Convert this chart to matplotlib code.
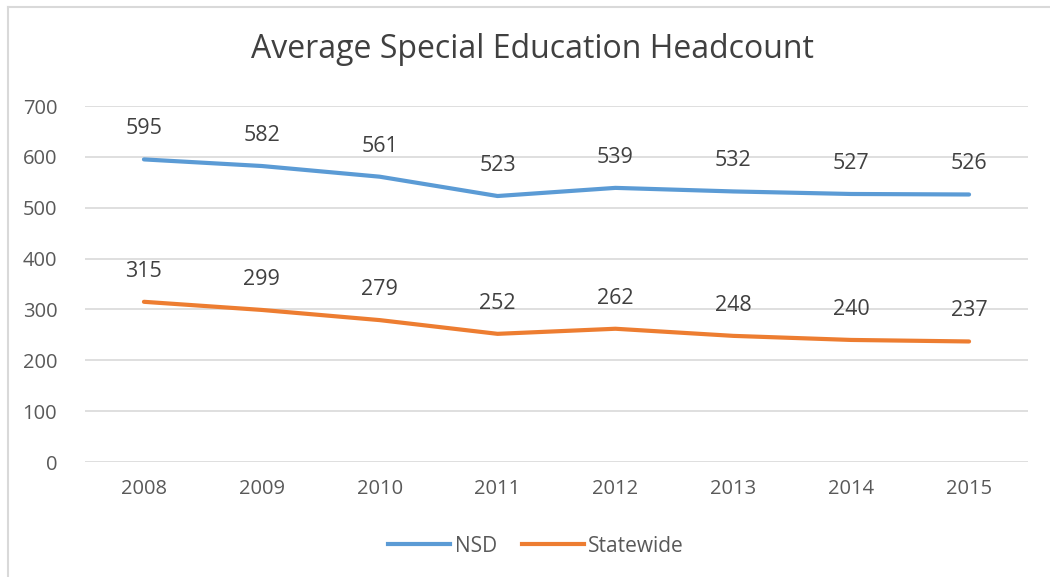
import matplotlib
matplotlib.use("Agg")
import matplotlib.pyplot as plt
from matplotlib.lines import Line2D

years = ["2008", "2009", "2010", "2011", "2012", "2013", "2014", "2015"]
nsd = [595, 582, 561, 523, 539, 532, 527, 526]
statewide = [315, 299, 279, 252, 262, 248, 240, 237]
yticks = [0, 100, 200, 300, 400, 500, 600, 700]

plt.rcParams['font.family'] = ['Open Sans', 'DejaVu Sans']

fig = plt.figure(figsize=(10.5, 5.77), dpi=100)
ax = fig.add_axes([85/1050, 1-462/577, (1028-85)/1050, (462-106)/577])

x = list(range(len(years)))
blue = '#5B9BD5'
orange = '#ED7D31'
ax.plot(x, nsd, color=blue, lw=3, solid_capstyle='round', label='NSD', zorder=3)
ax.plot(x, statewide, color=orange, lw=3, solid_capstyle='round', label='Statewide', zorder=3)

for xi, v in zip(x, nsd):
    ax.annotate(str(v), (xi, v), xytext=(0, 22), textcoords='offset points',
                ha='center', va='center', fontsize=15.5, color='#404040')
for xi, v in zip(x, statewide):
    ax.annotate(str(v), (xi, v), xytext=(0, 22), textcoords='offset points',
                ha='center', va='center', fontsize=15.5, color='#404040')

ax.set_xlim(-0.5, len(years)-0.5)
ax.set_ylim(0, 700)
ax.set_yticks(yticks)
ax.set_xticks(x)
ax.set_xticklabels(years)
ax.tick_params(axis='both', length=0, labelsize=14.5, labelcolor='#595959')
ax.tick_params(axis='y', pad=20)
ax.tick_params(axis='x', pad=12)
ax.grid(axis='y', color='#D9D9D9', lw=1.2)
ax.set_axisbelow(True)
for s in ax.spines.values():
    s.set_visible(False)

fig.text(532/1050, 1-50/577, 'Average Special Education Headcount', ha='center', va='center',
         fontsize=23, color='#404040')

handles = [Line2D([0], [0], color=blue, lw=3), Line2D([0], [0], color=orange, lw=3)]
fig.legend(handles, ['NSD', 'Statewide'], loc='center', bbox_to_anchor=(536/1050, 1-546/577),
           ncol=2, frameon=False, fontsize=15, labelcolor='#595959', handlelength=3,
           handletextpad=0.2, columnspacing=1.2)

# chart border (left and top visible)
fig.add_artist(Line2D([8/1050, 8/1050], [0, 1-7/577], color='#D9D9D9', lw=1.5, transform=fig.transFigure))
fig.add_artist(Line2D([8/1050, 1], [1-7/577, 1-7/577], color='#D9D9D9', lw=1.5, transform=fig.transFigure))

fig.savefig('out.png', dpi=100)
